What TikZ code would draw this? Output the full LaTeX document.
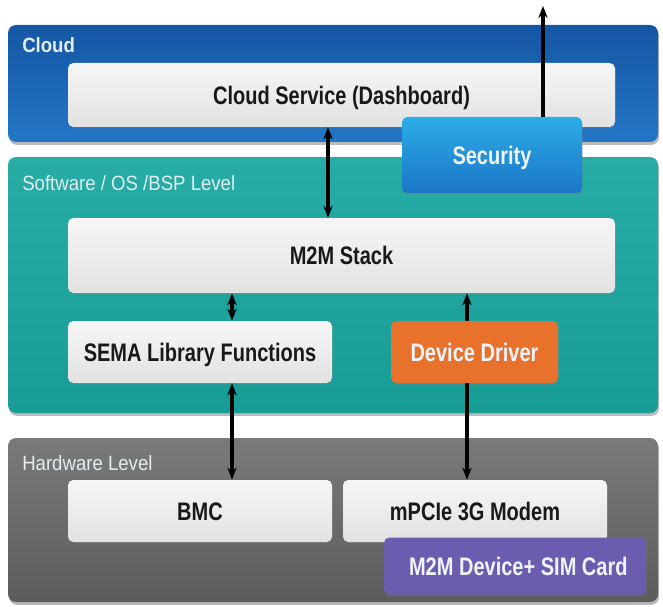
\documentclass[tikz,border=0pt]{standalone}
\usepackage{fontspec}
\setmainfont{Liberation Sans}
\newfontfamily\boxfont[FakeStretch=0.79]{Liberation Sans}
\newfontfamily\lblfont[FakeStretch=0.9]{Liberation Sans}
\usetikzlibrary{arrows.meta,shadows}
\definecolor{cloudtop}{RGB}{20,86,164}
\definecolor{cloudbot}{RGB}{34,118,198}
\definecolor{swtop}{RGB}{40,172,166}
\definecolor{swbot}{RGB}{24,156,150}
\definecolor{hwtop}{RGB}{122,122,122}
\definecolor{hwbot}{RGB}{92,92,92}
\definecolor{sectop}{RGB}{44,172,230}
\definecolor{secbot}{RGB}{28,118,200}
\definecolor{drvcol}{RGB}{232,114,44}
\definecolor{simcol}{RGB}{108,92,176}
\definecolor{boxtop}{RGB}{246,246,246}
\definecolor{boxbot}{RGB}{226,226,226}
\definecolor{txt}{RGB}{25,25,25}
\definecolor{lbltxt}{RGB}{226,238,240}
\definecolor{ctxt}{RGB}{238,244,250}
\tikzset{
  band/.style={rounded corners=6pt, inner sep=0pt, draw=none,
    drop shadow={shadow xshift=0.8pt, shadow yshift=-2.2pt, opacity=0.55}},
  boxbase/.style={rounded corners=4pt, inner sep=0pt, draw=none,
    font=\boxfont\bfseries\fontsize{19}{21}\selectfont,
    text height=13.6pt, text depth=0pt},
  wbox/.style={boxbase, top color=boxtop, bottom color=boxbot, text=txt,
    drop shadow={shadow xshift=0.5pt, shadow yshift=-1pt, opacity=0.3}},
  cbox/.style={boxbase, text=ctxt,
    drop shadow={shadow xshift=0.5pt, shadow yshift=-1.2pt, opacity=0.35}},
  lbl/.style={anchor=west, inner sep=0pt, text=lbltxt,
    font=\lblfont\fontsize{15.5}{17}\selectfont},
  conn/.style={line width=2.4pt, black, arrows={-Stealth[length=9pt,width=7pt]}},
  biconn/.style={line width=2.4pt, black, arrows={Stealth[length=9pt,width=7pt]-Stealth[length=9pt,width=7pt]}}
}
\begin{document}
\begin{tikzpicture}[x=0.75pt,y=-0.75pt]
\useasboundingbox (0,0) rectangle (663,606);
% bands
\node[band, top color=cloudtop, bottom color=cloudbot, minimum width=487.5pt, minimum height=87.75pt] (cloud) at (333,83.5) {};
\node[band, top color=swtop, bottom color=swbot, minimum width=487.5pt, minimum height=192pt] (sw) at (333,285) {};
\node[band, top color=hwtop, bottom color=hwbot, minimum width=487.5pt, minimum height=123pt] (hw) at (333,520) {};
% band labels
\node[lbl] (cloudlbl) at (22,45) {\bfseries Cloud};
\node[lbl] (swlbl) at (22,183) {Software / OS /BSP Level};
\node[lbl] (hwlbl) at (22,463) {Hardware Level};
% boxes
\node[wbox, minimum width=410.25pt, minimum height=48pt] (cs) at (341.5,95) {Cloud Service (Dashboard)};
\node[wbox, minimum width=410.25pt, minimum height=56.25pt] (stack) at (341.5,255.5) {M2M Stack};
\node[wbox, minimum width=198pt, minimum height=46.5pt] (sema) at (200,352) {SEMA Library Functions};
\node[cbox, fill=drvcol, minimum width=125.25pt, minimum height=46.5pt] (drv) at (474.5,352) {Device Driver};
\node[wbox, minimum width=198pt, minimum height=46.5pt] (bmc) at (200,511) {BMC};
\node[wbox, minimum width=198pt, minimum height=46.5pt] (modem) at (475,511) {mPCIe 3G Modem};
\node[cbox, top color=sectop, bottom color=secbot, minimum width=135pt, minimum height=57pt] (sec) at (492,155) {Security};
\node[cbox, fill=simcol, minimum width=196.5pt, minimum height=42.75pt] (sim) at (515,566) {\hspace*{5pt}M2M Device+ SIM Card};
\coordinate (out) at (543,6);
% connectors
\draw[biconn] (cs.south -| 328,0) -- (stack.north -| 328,0);
\draw[conn] (sec.north -| 543,0) -- (out);
\draw[biconn] (stack.south -| 232,0) -- (sema.north -| 232,0);
\draw[conn] (drv.north -| 467,0) -- (stack.south -| 467,0);
\draw[biconn] (sema.south -| 232,0) -- (bmc.north -| 232,0);
\draw[conn] (drv.south -| 467,0) -- (modem.north -| 467,0);
\end{tikzpicture}
\end{document}
